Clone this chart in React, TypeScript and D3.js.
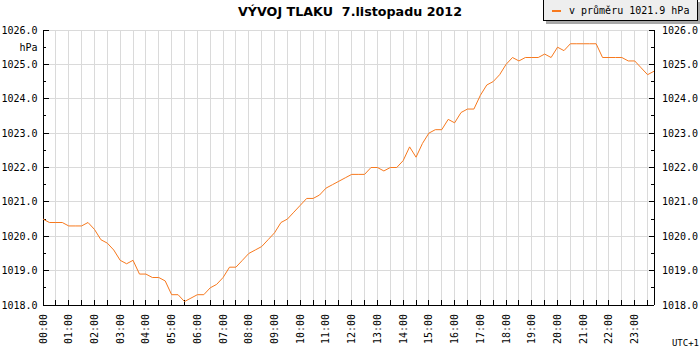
import * as d3 from 'd3';

// pressure readings every 15 minutes, 7 Nov 2012 (hPa)
const DAY = new Date(2012, 10, 7);
const STEP_MINUTES = 15;
const PRESSURE = [
  1020.5, 1020.4, 1020.4, 1020.4, 1020.3, 1020.3, 1020.3, 1020.4,
  1020.2, 1019.9, 1019.8, 1019.6, 1019.3, 1019.2, 1019.3, 1018.9,
  1018.9, 1018.8, 1018.8, 1018.7, 1018.3, 1018.3, 1018.1, 1018.2,
  1018.3, 1018.3, 1018.5, 1018.6, 1018.8, 1019.1, 1019.1, 1019.3,
  1019.5, 1019.6, 1019.7, 1019.9, 1020.1, 1020.4, 1020.5, 1020.7,
  1020.9, 1021.1, 1021.1, 1021.2, 1021.4, 1021.5, 1021.6, 1021.7,
  1021.8, 1021.8, 1021.8, 1022.0, 1022.0, 1021.9, 1022.0, 1022.0,
  1022.2, 1022.6, 1022.3, 1022.7, 1023.0, 1023.1, 1023.1, 1023.4,
  1023.3, 1023.6, 1023.7, 1023.7, 1024.1, 1024.4, 1024.5, 1024.7,
  1025.0, 1025.2, 1025.1, 1025.2, 1025.2, 1025.2, 1025.3, 1025.2,
  1025.5, 1025.4, 1025.6, 1025.6, 1025.6, 1025.6, 1025.6, 1025.2,
  1025.2, 1025.2, 1025.2, 1025.1, 1025.1, 1024.9, 1024.7, 1024.8,
];
const Y_DOMAIN = [1018, 1026];
const Y_TICKS = [1018, 1019, 1020, 1021, 1022, 1023, 1024, 1025, 1026];
const TITLE = 'VÝVOJ TLAKU  7.listopadu 2012';
const LEGEND = 'v průměru 1021.9 hPa';
const UNIT = 'hPa';
const ZONE = 'UTC+1';

const W = 700;
const H = 350;
const left = 43, right = 654, top = 30, bottom = 305;
const LINE = '#f7791e';
const GRID = '#dadada';
const MONO = '"DejaVu Sans Mono", monospace';

export default function App() {
  const points = PRESSURE.map((v, i) => ({ t: d3.timeMinute.offset(DAY, i * STEP_MINUTES), v }));
  const end = points[points.length - 1].t;

  const x = d3.scaleTime().domain([DAY, end]).range([left, right]);
  const y = d3.scaleLinear().domain(Y_DOMAIN).range([bottom, top]);

  const hours = d3.timeHour.range(DAY, end);
  const halfHours = d3.timeMinute.every(30)!.range(DAY, end);
  const minorY = Y_TICKS.slice(0, -1).map((d) => d + 0.5);
  const fmt = d3.timeFormat('%H:%M');

  const line = d3.line<{ t: Date; v: number }>()
    .x((d) => x(d.t))
    .y((d) => y(d.v));

  return (
    <svg width={W} height={H} style={{ position: 'absolute', left: 0, top: 0, background: '#fff' }}>
      {/* grid */}
      <g stroke={GRID} shapeRendering="crispEdges">
        {halfHours.slice(1).map((d, i) => (
          <line key={'v' + i} x1={x(d)} x2={x(d)} y1={top} y2={bottom} />
        ))}
        {Y_TICKS.map((d) => (
          <line key={'h' + d} x1={left} x2={right} y1={y(d)} y2={y(d)} />
        ))}
      </g>

      {/* axes */}
      <g stroke="#000" shapeRendering="crispEdges">
        <line x1={left} x2={left} y1={top} y2={bottom} />
        <line x1={right} x2={right} y1={top} y2={bottom} />
        <line x1={left} x2={right} y1={bottom} y2={bottom} />
        {Y_TICKS.map((d) => (
          <g key={'t' + d}>
            <line x1={left} x2={left + 6} y1={y(d)} y2={y(d)} />
            <line x1={right - 5} x2={right} y1={y(d)} y2={y(d)} />
          </g>
        ))}
        {minorY.map((d) => (
          <g key={'m' + d}>
            <line x1={left} x2={left + 3} y1={y(d)} y2={y(d)} />
            <line x1={right - 3} x2={right} y1={y(d)} y2={y(d)} />
          </g>
        ))}
        {halfHours.slice(1).map((d, i) => (
          <line key={'x' + i} x1={x(d)} x2={x(d)} y1={bottom - 5} y2={bottom} />
        ))}
      </g>

      {/* y labels */}
      <g fontFamily={MONO} fontSize={10} fill="#000">
        {Y_TICKS.map((d) => (
          <text key={'l' + d} x={37.5} y={y(d)} dy="0.35em" textAnchor="end">{d.toFixed(1)}</text>
        ))}
        {Y_TICKS.map((d) => (
          <text key={'r' + d} x={662} y={y(d)} dy="0.35em">{d.toFixed(1)}</text>
        ))}
        <text x={37.5} y={y(1025.5)} dy="0.35em" textAnchor="end">{UNIT}</text>
        {hours.map((d, i) => (
          <text key={'xl' + i} transform={`translate(${x(d)},314) rotate(-90)`} dy="0.35em" textAnchor="end">
            {fmt(d)}
          </text>
        ))}
        <text x={699} y={346} textAnchor="end" fontSize={9}>{ZONE}</text>
      </g>

      {/* data */}
      <path d={line(points) ?? ''} fill="none" stroke={LINE} strokeWidth={1} />

      {/* title */}
      <text x={350} y={16} textAnchor="middle" fontFamily="'DejaVu Sans', sans-serif" fontWeight="bold"
        fontSize={12.7} style={{ whiteSpace: 'pre' }}>
        {TITLE}
      </text>

      {/* legend */}
      <rect x={546} y={2} width={156} height={22} fill="#a8a8a8" />
      <rect x={543.5} y={-1.5} width={154} height={22} fill="#eeeeee" stroke="#000" />
      <line x1={552} x2={561} y1={11} y2={11} stroke={LINE} strokeWidth={2} />
      <text x={569} y={14} fontFamily={MONO} fontSize={10}>{LEGEND}</text>
    </svg>
  );
}
